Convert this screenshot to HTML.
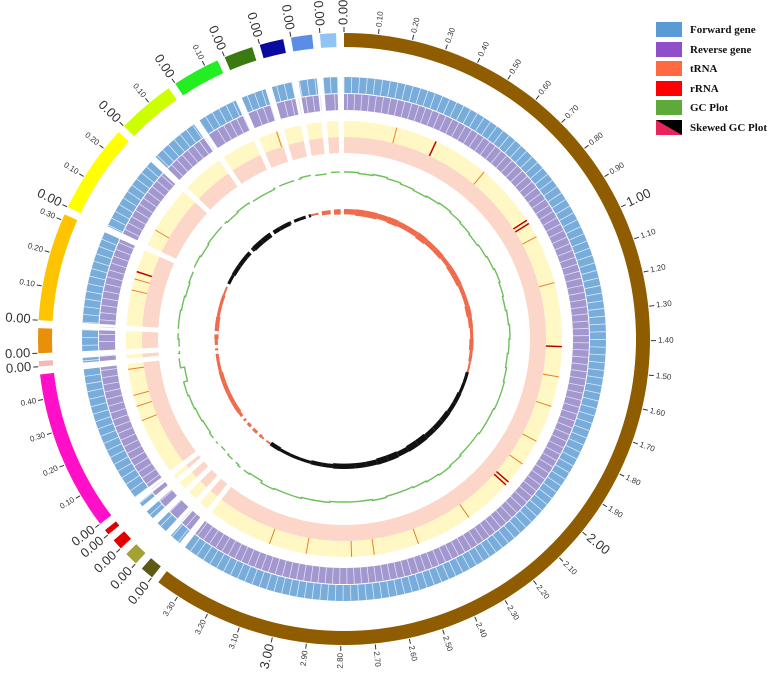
<!DOCTYPE html>
<html><head><meta charset="utf-8">
<style>
html,body{margin:0;padding:0;background:#fff;}
svg{display:block;}
.lg{font-family:"Liberation Serif",serif;font-weight:bold;font-size:11px;fill:#111;}
</style></head>
<body>
<svg id="chart" width="778" height="673" viewBox="0 0 778 673">
  <g id="rings"></g>
  <g id="legend">
    <g><rect x="656" y="22" width="26" height="15" fill="#5b9bd5"/><text class="lg" x="690" y="33">Forward gene</text></g>
    <g><rect x="656" y="42" width="26" height="15" fill="#8e4fc8"/><text class="lg" x="690" y="53">Reverse gene</text></g>
    <g><rect x="656" y="61" width="26" height="15" fill="#ff6a40"/><text class="lg" x="690" y="72">tRNA</text></g>
    <g><rect x="656" y="81" width="26" height="15" fill="#ff0000"/><text class="lg" x="690" y="92">rRNA</text></g>
    <g><rect x="656" y="100" width="26" height="15" fill="#5fa83a"/><text class="lg" x="690" y="111">GC Plot</text></g>
    <g><polygon points="656,120 682,120 682,135" fill="#000"/><polygon points="656,120 682,135 656,135" fill="#e8245a"/><polygon points="656,120 682,120 682,135" fill="#000"/><text class="lg" x="690" y="131">Skewed GC Plot</text></g>
  </g>
</svg>
<script>
// ---- data ----
const contigNames = ["c1","c2","c3","c4","c5","c6","c7","c8","c9","c10","c11","c12","c13","c14","c15","c16"];
const contigLengths = [3.37,0.039,0.039,0.031,0.016,0.473,0.016,0.073,0.318,0.264,0.171,0.140,0.085,0.070,0.062,0.047];
const contigColors = ["#8f5d00","#5c5a16","#a3a233","#e00000","#e00000","#ff10c8","#f4b8b8","#e8900a","#ffc400","#ffff00","#ccff00","#22ee22","#3a7a10","#0a0aa0","#5b8de8","#90c4f4"];
const trnaAngles = [14,40,62,75,100,108,118,125,145,160,172,178,190,200,248,252,255,262,283,286,300,342];
const rrnaAngles = [25,57,58,92,131,132,288];
// GC deviation per 5-degree bin (px)
const gcValues = [2,1,2,1,0,-1,0,1,0,-1,-2,-1,0,1,0,-1,0,1,0,-1,0,1,1,0,0,-1,-1,0,1,0,-1,-2,-2,-1,-2,-2,-2,-1,-1,0,0,1,-1,0,-1,-2,-1,-2,-1,0,1,-3,1,0,1,1,0,-1,0,1,0,1,1,0,1,0,0,1,1,2,1,2];
// GC skew per 5-degree bin (positive = red, negative = black)
const skewValues = [3,4,4,3,4,3,3,4,3,3,2,3,3,2,2,3,2,1,2,1,0,-1,-1,-2,-2,-3,-3,-3,-4,-4,-3,-4,-4,-3,-3,-3,-3,-2,-2,-1,-1,-1,-2,0,1,1,1,2,2,2,2,1,1,1,2,2,1,1,0,-1,-2,-2,-2,-3,-3,-2,-2,-1,-1,0,2,3];

// ---- geometry ----
const cx=344, cy=339, degPerMb=64.5;
const R_OUT=306, R_IN=292;
const NS="http://www.w3.org/2000/svg";
const g=document.getElementById('rings');
function pt(r,a){const t=a*Math.PI/180;return [cx+r*Math.sin(t),cy-r*Math.cos(t)];}
function annulus(r1,r2,a1,a2){
  const p1=pt(r2,a1),p2=pt(r2,a2),p3=pt(r1,a2),p4=pt(r1,a1);const lg=(a2-a1)>180?1:0;
  return `M${p1[0]},${p1[1]}A${r2},${r2} 0 ${lg} 1 ${p2[0]},${p2[1]}L${p3[0]},${p3[1]}A${r1},${r1} 0 ${lg} 0 ${p4[0]},${p4[1]}Z`;
}
function mk(tag,attrs,parent){const e=document.createElementNS(NS,tag);for(const k in attrs)e.setAttribute(k,attrs[k]);(parent||g).appendChild(e);return e;}

const totalDeg=contigLengths.reduce((s,l)=>s+l*degPerMb,0);
const gap=(360-totalDeg)/contigLengths.length;
const spans=[];let a=0;
contigLengths.forEach((l)=>{const s=a,e=a+l*degPerMb;spans.push([s,e]);a=e+gap;});
function inContig(ang){return spans.some(s=>ang>=s[0]&&ang<=s[1]);}

function label(ang,r,txt,size){
  const p=pt(r,ang);
  const rot= ang<180 ? ang-90 : ang+90;
  const t=mk('text',{x:p[0],y:p[1],transform:`rotate(${rot} ${p[0]} ${p[1]})`,'text-anchor':ang<180?'start':'end','dominant-baseline':'middle','font-family':'"Liberation Sans",sans-serif','font-size':size,fill:'#333'});
  t.textContent=txt;
  
  
}

spans.forEach((s,i)=>{
  const [a1,a2]=s;
  const c=mk('path',{d:annulus(R_IN,R_OUT,a1,a2),fill:contigColors[i]});
  
  
  const f=mk('path',{d:annulus(246,262,a1,a2),fill:'#78acdb'});
  
  
  const rv=mk('path',{d:annulus(229,245,a1,a2),fill:'#a397cf'});
  
  
  const y=mk('path',{d:annulus(202,218,a1,a2),fill:'#fff7c4'});
  
  
  const pk=mk('path',{d:annulus(186,202,a1,a2),fill:'#fcd6c8'});
  
  
  const len=contigLengths[i];
  for(let m=0;m<=len+1e-9;m=Math.round((m+0.1)*100)/100){
    const ang=a1+m*degPerMb;
    const p1=pt(R_OUT+1,ang),p2=pt(R_OUT+6,ang);
    const tk=mk('line',{x1:p1[0],y1:p1[1],x2:p2[0],y2:p2[1],stroke:'#333','stroke-width':1});
    
    
    const major=(Math.abs(m-Math.round(m))<1e-6);
    label(ang,R_OUT+8,m.toFixed(2),major?13:8);
  }
});

// gene gaps
for(let ang=0;ang<360;ang+=1.7){
  if(!inContig(ang))continue;
  const p1=pt(246,ang),p2=pt(262,ang);
  const s=mk('line',{x1:p1[0],y1:p1[1],x2:p2[0],y2:p2[1],stroke:'#dce9f6','stroke-width':0.8});
  
  
  const q1=pt(229,ang+0.8),q2=pt(245,ang+0.8);
  const s2=mk('line',{x1:q1[0],y1:q1[1],x2:q2[0],y2:q2[1],stroke:'#e3dff0','stroke-width':0.8});
  
  
}

trnaAngles.forEach(ang=>{
  const p1=pt(202,ang),p2=pt(218,ang);
  const l=mk('line',{x1:p1[0],y1:p1[1],x2:p2[0],y2:p2[1],stroke:'#e8802a','stroke-width':1});
  
  
});
rrnaAngles.forEach(ang=>{
  const p1=pt(202,ang),p2=pt(218,ang);
  const l=mk('line',{x1:p1[0],y1:p1[1],x2:p2[0],y2:p2[1],stroke:'#c00000','stroke-width':1.5});
  
  
});

// GC plot: arc segments per bin within each contig
spans.forEach(s=>{
  let d='';
  for(let b=0;b<gcValues.length;b++){
    const b1=Math.max(b*5,s[0]),b2=Math.min(b*5+5,s[1]);
    if(b2<=b1)continue;
    const r=165+gcValues[b];
    const p=pt(r,b1),q=pt(r,b2);
    d+=(d?'L':'M')+p[0].toFixed(1)+','+p[1].toFixed(1)+`A${r},${r} 0 0 1 ${q[0].toFixed(1)},${q[1].toFixed(1)}`;
  }
  if(!d)return;
  const l=mk('path',{d:d,fill:'none',stroke:'#6cbf5a','stroke-width':1.4});
  
  
});

// GC skew
spans.forEach(s=>{
  for(let b=0;b<skewValues.length;b++){
    const b1=Math.max(b*5,s[0]),b2=Math.min(b*5+5,s[1]);
    if(b2<=b1)continue;
    const v=skewValues[b];
    const fill=v>=0?'#f06a4c':'#111';
    const amp=Math.abs(v)*0.8;
    const e=mk('path',{d:annulus(127-amp,129+amp*0.4,b1,b2),fill:fill});
    
    
  }
});
</script>
</body></html>
